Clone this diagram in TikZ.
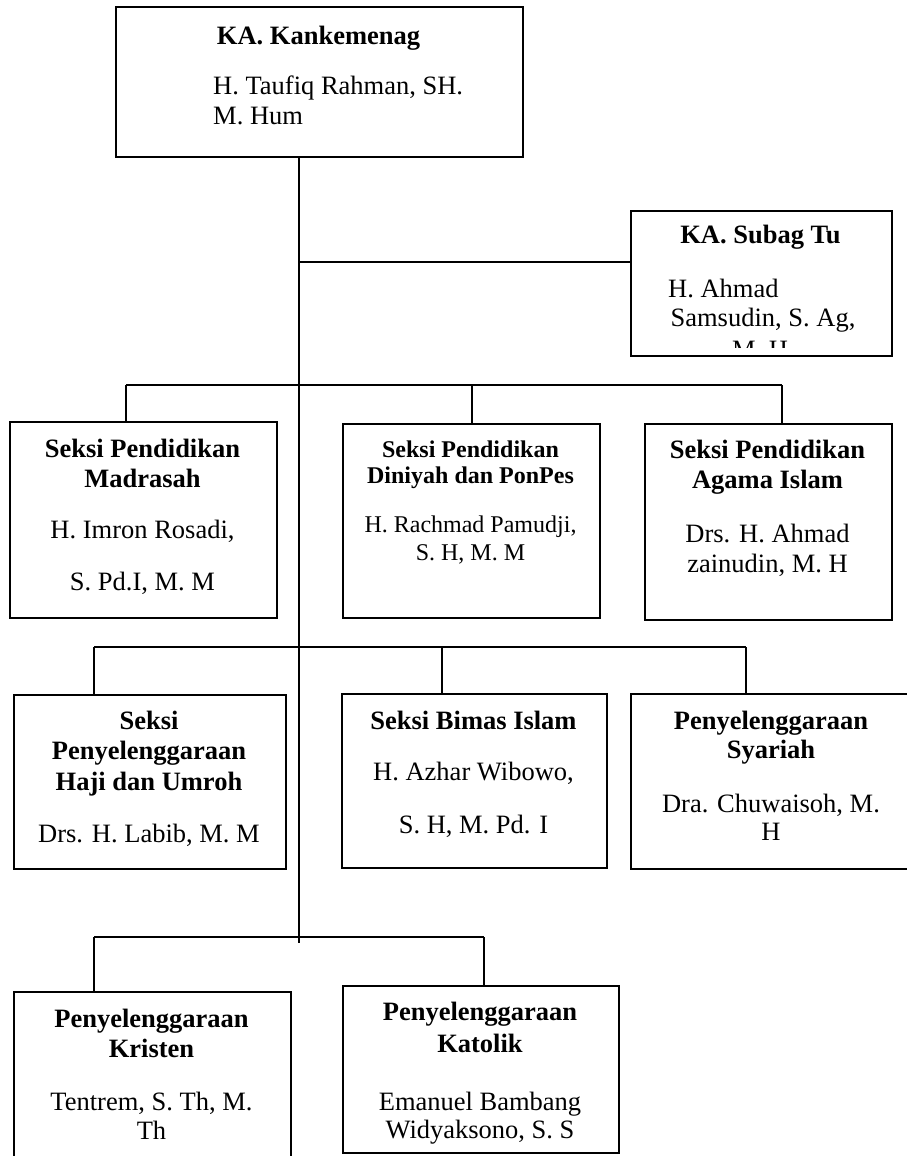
\documentclass[tikz,border=0pt]{standalone}
\usepackage{fontspec}
\setmainfont{Liberation Serif}
\tikzset{
  box/.style={draw=black, line width=1.6pt, rectangle, inner sep=0pt, anchor=north west},
  conn/.style={draw=black, line width=1.4pt},
  tb/.style={anchor=base, inner sep=0pt, font=\fontsize{26.5}{30}\selectfont\bfseries},
  tr/.style={anchor=base, inner sep=0pt, font=\fontsize{26.5}{30}\selectfont},
  sb/.style={anchor=base, inner sep=0pt, font=\fontsize{24}{27}\selectfont\bfseries},
  sr/.style={anchor=base, inner sep=0pt, font=\fontsize{24}{27}\selectfont},
}
\begin{document}
\begin{tikzpicture}[x=1pt,y=-1pt]
\useasboundingbox (0,0) rectangle (907,1156);
\fill[white] (0,0) rectangle (907,1156);
\clip (0,0) rectangle (907,1156);

% boxes
\node[box, minimum width=407pt, minimum height=150pt] (top) at (115,6) {};
\node[box, minimum width=261pt, minimum height=145pt] (subag) at (630,210) {};
\node[box, minimum width=267pt, minimum height=196pt] (madr) at (9,421) {};
\node[box, minimum width=257pt, minimum height=194pt] (dini) at (342,423) {};
\node[box, minimum width=247pt, minimum height=196pt] (agama) at (644,423) {};
\node[box, minimum width=272pt, minimum height=174pt] (haji) at (13,694) {};
\node[box, minimum width=265pt, minimum height=174pt] (bimas) at (341,693) {};
\node[box, minimum width=282pt, minimum height=175pt] (syar) at (630,693) {};
\node[box, minimum width=277pt, minimum height=180pt] (kris) at (13,991) {};
\node[box, minimum width=276pt, minimum height=167pt] (kato) at (342,985) {};

% junction coordinates
\coordinate (tEnd) at (299,943);
\coordinate (jSub) at (299,262);
\coordinate (b1L) at (126,385);
\coordinate (b1M) at (472,385);
\coordinate (b1R) at (782,385);
\coordinate (b2L) at (94,647);
\coordinate (b2M) at (442,647);
\coordinate (b2R) at (746,647);
\coordinate (b3L) at (94,937);
\coordinate (b3R) at (484,937);

% connectors
\draw[conn] (top.south -| tEnd) -- (tEnd);
\draw[conn] (jSub) -- (jSub -| subag.west);
\draw[conn] (b1L) -- (b1R);
\draw[conn] (b1L) -- (b1L |- madr.north);
\draw[conn] (b1M) -- (b1M |- dini.north);
\draw[conn] (b1R) -- (b1R |- agama.north);
\draw[conn] (b2L) -- (b2R);
\draw[conn] (b2L) -- (b2L |- haji.north);
\draw[conn] (b2M) -- (b2M |- bimas.north);
\draw[conn] (b2R) -- (b2R |- syar.north);
\draw[conn] (b3L) -- (b3R);
\draw[conn] (b3L) -- (b3L |- kris.north);
\draw[conn] (b3R) -- (b3R |- kato.north);

% texts: top
\node[tb] (topT) at (318.5,45) {KA. Kankemenag};
\node[tr, anchor=base west] (topN1) at (213,94) {H. Taufiq Rahman, SH.};
\node[tr, anchor=base west] (topN2) at (213,124) {M. Hum};

% subag
\node[tb] (subT) at (760.5,243) {KA. Subag Tu};
\node[tr, anchor=base west] (subN1) at (668,297) {H. Ahmad};
\node[tr] (subN2) at (763,326) {Samsudin, S. Ag,};
\begin{scope}
\clip (632,212) rectangle (889,347);
\node[tr] (subN3) at (760,358) {M. H};
\end{scope}

% madrasah
\node[tb] (madT1) at (142.5,457) {Seksi Pendidikan};
\node[tb] (madT2) at (142.5,487) {Madrasah};
\node[tr] (madN1) at (142.5,538) {H. Imron Rosadi,};
\node[tr] (madN2) at (142.5,590) {S. Pd.I, M. M};

% diniyah
\node[sb] (dinT1) at (470.5,457) {Seksi Pendidikan};
\node[sb] (dinT2) at (470.5,483) {Diniyah dan PonPes};
\node[sr] (dinN1) at (470.5,532) {H. Rachmad Pamudji,};
\node[sr] (dinN2) at (470.5,560) {S. H, M. M};

% agama islam
\node[tb] (agaT1) at (767.5,458) {Seksi Pendidikan};
\node[tb] (agaT2) at (767.5,488) {Agama Islam};
\node[tr] (agaN1) at (767.5,542) {Drs. H. Ahmad};
\node[tr] (agaN2) at (767.5,572) {zainudin, M. H};

% haji
\node[tb] (hajT1) at (149,729) {Seksi};
\node[tb] (hajT2) at (149,759) {Penyelenggaraan};
\node[tb] (hajT3) at (149,790) {Haji dan Umroh};
\node[tr] (hajN1) at (149,842) {Drs. H. Labib, M. M};

% bimas
\node[tb] (bimT1) at (473.5,729) {Seksi Bimas Islam};
\node[tr] (bimN1) at (473.5,780) {H. Azhar Wibowo,};
\node[tr] (bimN2) at (473.5,833) {S. H, M. Pd. I};

% syariah
\node[tb] (syaT1) at (771,729) {Penyelenggaraan};
\node[tb] (syaT2) at (771,758) {Syariah};
\node[tr] (syaN1) at (771,812) {Dra. Chuwaisoh, M.};
\node[tr] (syaN2) at (771,840) {H};

% kristen
\node[tb] (krT1) at (151.5,1027) {Penyelenggaraan};
\node[tb] (krT2) at (151.5,1057) {Kristen};
\node[tr] (krN1) at (151.5,1110) {Tentrem, S. Th, M.};
\node[tr] (krN2) at (151.5,1139) {Th};

% katolik
\node[tb] (kaT1) at (480,1020) {Penyelenggaraan};
\node[tb] (kaT2) at (480,1052) {Katolik};
\node[tr] (kaN1) at (480,1110) {Emanuel Bambang};
\node[tr] (kaN2) at (480,1138) {Widyaksono, S. S};
\end{tikzpicture}
\end{document}
